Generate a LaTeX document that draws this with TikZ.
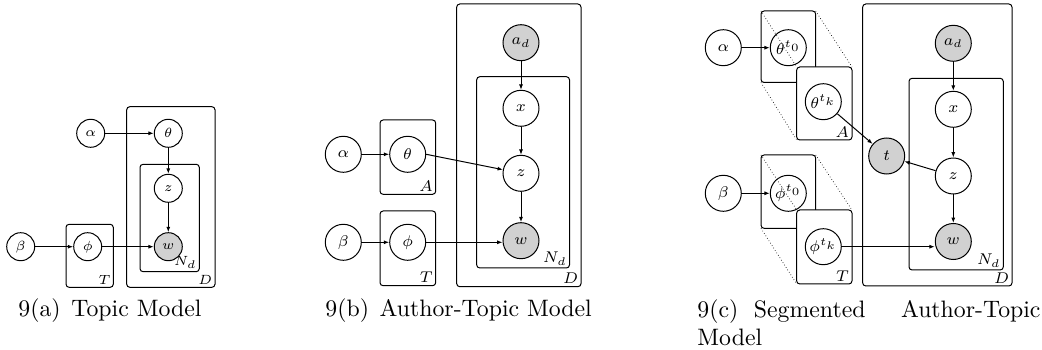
\documentclass[tikz,border=0pt]{standalone}
\usetikzlibrary{arrows.meta}
\tikzset{
  var/.style={circle,draw,line width=0.45pt,inner sep=0pt,minimum size=16.2pt,font=\fontsize{7}{8}\selectfont},
  vara/.style={var,minimum size=12.6pt,font=\fontsize{6}{7}\selectfont},
  obs/.style={fill=black!18},
  plate/.style={draw,rounded corners=1.4pt,line width=0.45pt},
  platelbl/.style={anchor=south east,inner sep=1.1pt,font=\fontsize{7}{8}\selectfont},
  platelbla/.style={platelbl,font=\fontsize{6}{7}\selectfont},
  edge/.style={-{Latex[length=2.4pt,width=1.8pt]},line width=0.45pt},
  stack/.style={densely dotted,line width=0.3pt},
  capfont/.style={font=\fontsize{10.7}{12.5}\selectfont},
  captext/.style={capfont,inner sep=0pt,anchor=base west}
}
\begin{document}
\begin{tikzpicture}[x=0.45pt,y=-0.45pt]
\useasboundingbox (0,0) rectangle (1042,350);
% ---------------- panel (a)
\draw[plate] (66,224.3) rectangle (113.3,287.3);
\draw[plate] (126.7,106.7) rectangle (215,287.3);
\draw[plate] (140,164.3) rectangle (199.3,271.7);
\node[platelbla] (aT) at (113.3,287.3) {$T$};
\node[platelbla] (aD) at (215,287.3) {$D$};
\node[platelbla] (aN) at (199.3,271.7) {$N_d$};
\node[vara] (aalpha) at (90.7,133.3) {$\alpha$};
\node[vara] (atheta) at (168.3,133.3) {$\theta$};
\node[vara] (az) at (168.3,188.3) {$z$};
\node[vara,obs] (aw) at (168.3,246.7) {$w$};
\node[vara] (abeta) at (20.7,246.7) {$\beta$};
\node[vara] (aphi) at (87.7,246.7) {$\phi$};
\draw[edge] (aalpha) -- (atheta);
\draw[edge] (atheta) -- (az);
\draw[edge] (az) -- (aw);
\draw[edge] (abeta) -- (aphi);
\draw[edge] (aphi) -- (aw);
% ---------------- panel (b)
\draw[plate] (380,120) rectangle (435.7,194.3);
\draw[plate] (380,211) rectangle (435.7,285.7);
\draw[plate] (456.7,4) rectangle (581,286.7);
\draw[plate] (476.7,76.7) rectangle (569.5,268);
\node[platelbl] (bA) at (435.7,194.3) {$A$};
\node[platelbl] (bT) at (435.7,285.7) {$T$};
\node[platelbl] (bD) at (581,286.7) {$D$};
\node[platelbl] (bN) at (569.5,268) {$N_d$};
\node[var] (balpha) at (343.3,154.3) {$\alpha$};
\node[var] (btheta) at (407.7,154.3) {$\theta$};
\node[var] (bbeta) at (343.3,242.3) {$\beta$};
\node[var] (bphi) at (407.7,242.3) {$\phi$};
\node[var,obs] (bad) at (521,42.7) {$a_d$};
\node[var] (bx) at (521,108.3) {$x$};
\node[var] (bz) at (521,173.3) {$z$};
\node[var,obs] (bw) at (521,240.7) {$w$};
\draw[edge] (balpha) -- (btheta);
\draw[edge] (btheta.east) -- (bz);
\draw[edge] (bad) -- (bx);
\draw[edge] (bx) -- (bz);
\draw[edge] (bz) -- (bw);
\draw[edge] (bbeta) -- (bphi);
\draw[edge] (bphi.east) -- (bphi.east -| bw.west);
% ---------------- panel (c)
\coordinate (A0nw) at (761,11);   \coordinate (A0se) at (815.7,82.5);
\coordinate (A0ne) at (815.7,11); \coordinate (A0sw) at (761,82.5);
\coordinate (A1nw) at (796.7,67); \coordinate (A1se) at (852,140);
\coordinate (A1ne) at (852,67);   \coordinate (A1sw) at (796.7,140);
\coordinate (T0nw) at (761,155);  \coordinate (T0se) at (815.7,228.3);
\coordinate (T0ne) at (815.7,155);\coordinate (T0sw) at (761,228.3);
\coordinate (T1nw) at (796.7,210);\coordinate (T1se) at (852,284);
\coordinate (T1ne) at (852,210);  \coordinate (T1sw) at (796.7,284);
\draw[plate] (A0nw) rectangle (A0se);
\draw[plate] (T0nw) rectangle (T0se);
\node[var] (cth0) at (788.3,47.7) {$\theta^{t_0}$};
\node[var] (cph0) at (788.3,193.3) {$\phi^{t_0}$};
\draw[stack] (A0nw) -- (A1nw);
\draw[stack] (A0ne) -- (A1ne);
\draw[stack] (A0sw) -- (A1sw);
\draw[stack] (T0nw) -- (T1nw);
\draw[stack] (T0ne) -- (T1ne);
\draw[stack] (T0sw) -- (T1sw);
\draw[plate,fill=white] (A1nw) rectangle (A1se);
\draw[plate,fill=white] (T1nw) rectangle (T1se);
\draw[plate] (862.7,4) rectangle (1012,286);
\draw[plate] (909,78.3) rectangle (1003.3,270);
\node[platelbl] (cA) at (A1se) {$A$};
\node[platelbl] (cT) at (T1se) {$T$};
\node[platelbl] (cD) at (1012,286) {$D$};
\node[platelbl] (cN) at (1003.3,270) {$N_d$};
\node[var] (calpha) at (723.3,47.7) {$\alpha$};
\node[var] (cthk) at (823.3,101.7) {$\theta^{t_k}$};
\node[var] (cbeta) at (723.3,193.3) {$\beta$};
\node[var] (cphk) at (823.3,246.7) {$\phi^{t_k}$};
\node[var,obs] (ct) at (886.7,156) {$t$};
\node[var,obs] (cad) at (953.3,43.3) {$a_d$};
\node[var] (cx) at (953.3,109.3) {$x$};
\node[var] (cz) at (953.3,176) {$z$};
\node[var,obs] (cw) at (953.3,241.5) {$w$};
\draw[edge] (calpha) -- (cth0);
\draw[edge] (cbeta) -- (cph0);
\draw[edge] (cthk) -- (ct);
\draw[edge] (cz) -- (ct);
\draw[edge] (cad) -- (cx);
\draw[edge] (cx) -- (cz);
\draw[edge] (cz) -- (cw);
\draw[edge] (cphk.east) -- (cphk.east -| cw.west);
% ---------------- captions
\node[captext] (capa) at (18,317) {9(a)\hspace{4.8pt}Topic Model};
\node[captext] (capb) at (325,317) {9(b)\hspace{4.8pt}Author-Topic Model};
\node[capfont,inner sep=0pt,anchor=north west,text width=154.4pt,align=left] (capc) at (697,299.5)
  {9(c)\hspace{7pt}Segmented\hfill Author-Topic\\Model};
\end{tikzpicture}
\end{document}
